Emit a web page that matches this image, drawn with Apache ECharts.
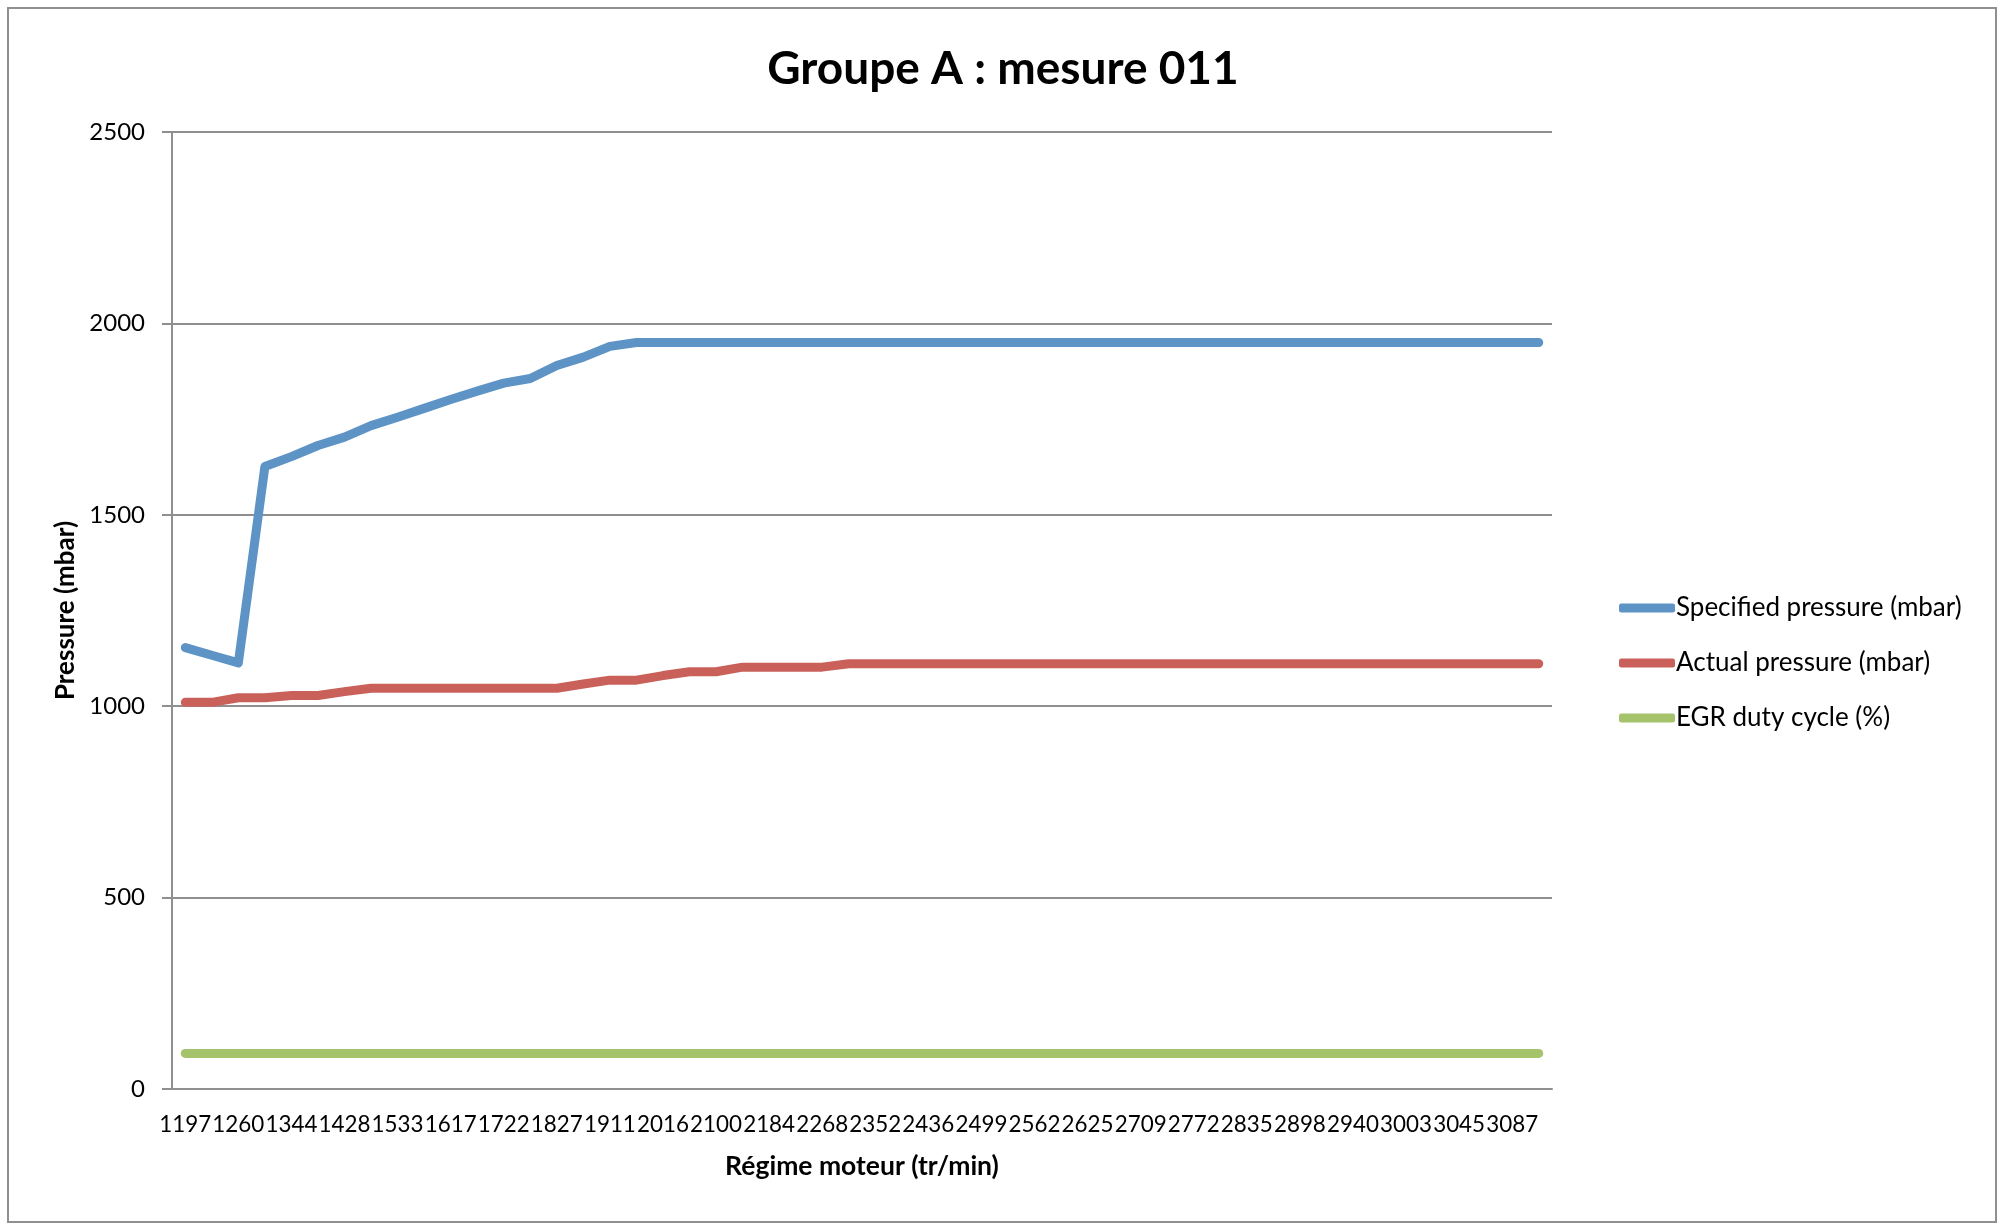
<!DOCTYPE html>
<html>
<head>
<meta charset="utf-8">
<script src="https://cdn.jsdelivr.net/npm/echarts@6/dist/echarts.min.js"></script>
<style>
html,body{margin:0;padding:0;background:#fff;}
#chart{width:2006px;height:1230px;}
</style>
</head>
<body>
<div id="chart"></div>
<script>
const rpm = [1197,1239,1260,1302,1344,1386,1428,1491,1533,1575,1617,1680,1722,1764,1827,1869,1911,1974,2016,2058,2100,2142,2184,2226,2268,2310,2352,2394,2436,2478,2499,2520,2562,2604,2625,2667,2709,2730,2772,2814,2835,2877,2898,2919,2940,2982,3003,3024,3045,3066,3087,3108];
const specified = [1153,1133,1113,1626,1652,1681,1703,1733,1755,1778,1801,1823,1844,1856,1890,1912,1940,1950,1950,1950,1950,1950,1950,1950,1950,1950,1950,1950,1950,1950,1950,1950,1950,1950,1950,1950,1950,1950,1950,1950,1950,1950,1950,1950,1950,1950,1950,1950,1950,1950,1950,1950];
const actual = [1010,1010,1022,1022,1028,1028,1038,1047,1047,1047,1047,1047,1047,1047,1047,1058,1068,1068,1080,1090,1090,1102,1102,1102,1102,1111,1111,1111,1111,1111,1111,1111,1111,1111,1111,1111,1111,1111,1111,1111,1111,1111,1111,1111,1111,1111,1111,1111,1111,1111,1111,1111];
const egr = [93,93,93,93,93,93,93,93,93,93,93,93,93,93,93,93,93,93,93,93,93,93,93,93,93,93,93,93,93,93,93,93,93,93,93,93,93,93,93,93,93,93,93,93,93,93,93,93,93,93,93,93];
const yTicks = {min:0, max:2500, interval:500};
const seriesNames = ['Specified pressure (mbar)','Actual pressure (mbar)','EGR duty cycle (%)'];
const colors = ['#5E93C6','#C9615A','#A4C36A'];

const chart = echarts.init(document.getElementById('chart'), null, {renderer:'canvas'});
const font = 'Lato';
const gray = '#8f8f8f';
chart.setOption({
  animation:false,
  backgroundColor:'#fff',
  color: colors,
  textStyle:{fontFamily:font, color:'#000'},
  title:{
    text:'Groupe A : mesure 011',
    left:'center', top:41,
    textStyle:{fontFamily:font, fontWeight:'bold', fontSize:46, color:'#000'}
  },
  graphic:[{type:'rect', shape:{x:8,y:8,width:1988,height:1214}, style:{fill:'none', stroke:gray, lineWidth:2}, silent:true}],
  legend:{
    orient:'vertical', left:1614, top:590, itemWidth:56, itemHeight:9, itemGap:29,
    icon:'roundRect',
    data: seriesNames,
    textStyle:{fontFamily:font, fontSize:26, color:'#000', padding:[0,0,0,-4]}
  },
  grid:{left:172, right:454, top:132, bottom:141, containLabel:false},
  xAxis:{
    type:'category', data: rpm.map(String), boundaryGap:true,
    name:'Régime moteur (tr/min)', nameLocation:'middle', nameGap:64,
    nameTextStyle:{fontFamily:font, fontWeight:'bold', fontSize:26.5, color:'#000'},
    axisLine:{show:true, lineStyle:{color:gray, width:2}},
    axisTick:{show:false},
    axisLabel:{interval:1, hideOverlap:false, margin:25, fontSize:22.4, fontFamily:font, color:'#000'},
    splitLine:{show:false}
  },
  yAxis:{
    type:'value', min:yTicks.min, max:yTicks.max, interval:yTicks.interval,
    name:'Pressure (mbar)', nameLocation:'middle', nameGap:82, nameRotate:90,
    nameTextStyle:{fontFamily:font, fontWeight:'bold', fontSize:26, color:'#000'},
    axisLine:{show:true, lineStyle:{color:gray, width:2}},
    axisTick:{show:true, length:10, lineStyle:{color:gray, width:2}},
    axisLabel:{margin:27, fontSize:24, fontFamily:font, color:'#000', formatter:function(v){return String(v);}},
    splitLine:{show:true, lineStyle:{color:gray, width:2}}
  },
  series:[
    {name:seriesNames[0], type:'line', data:specified, symbol:'none', lineStyle:{width:9, cap:'round', join:'round'}},
    {name:seriesNames[1], type:'line', data:actual, symbol:'none', lineStyle:{width:9, cap:'round', join:'round'}},
    {name:seriesNames[2], type:'line', data:egr, symbol:'none', lineStyle:{width:9, cap:'round', join:'round'}}
  ]
});
</script>
</body>
</html>
